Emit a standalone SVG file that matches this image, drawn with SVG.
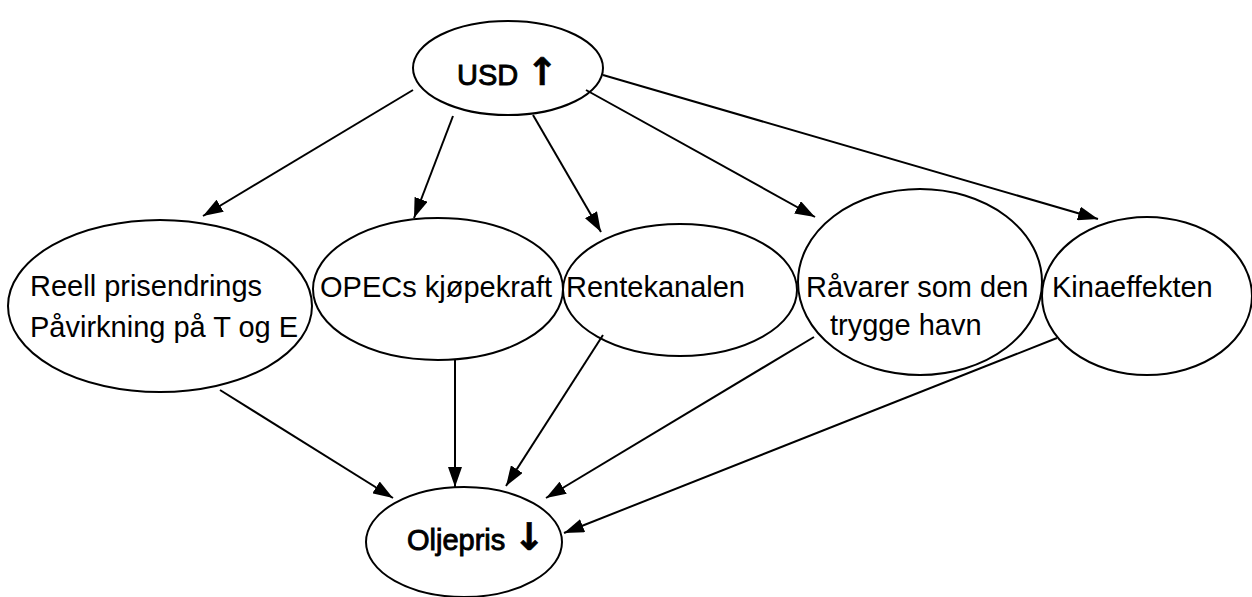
<svg xmlns="http://www.w3.org/2000/svg" width="1252" height="597" viewBox="0 0 1252 597">
<style>
.n{fill:#fff;stroke:#000;stroke-width:2}
.t{font-family:"Liberation Sans",Arial,sans-serif;font-size:29px;fill:#000}
.b{stroke:#000;stroke-width:0.9}
.ar{font-family:"DejaVu Sans",sans-serif;font-weight:bold;font-size:38px;stroke-width:0.6}
.c{stroke:#000;stroke-width:2;fill:none;marker-end:url(#ah)}
</style>
<defs>
<marker id="ah" markerUnits="userSpaceOnUse" markerWidth="20" markerHeight="14" refX="20" refY="7" orient="auto">
<path d="M0,0 L20,7 L0,14 z" fill="#000"/>
</marker>
</defs>
<rect width="1252" height="597" fill="#fff"/>
<g id="usd"><ellipse class="n" cx="508" cy="68" rx="95" ry="47"/><text class="t b" x="457" y="85">USD <tspan class="ar">↑</tspan></text></g>
<g id="reell"><ellipse class="n" cx="160" cy="306" rx="152" ry="86"/><text class="t" x="30" y="296">Reell prisendrings</text><text class="t" x="30" y="337">Påvirkning på T og E</text></g>
<g id="opec"><ellipse class="n" cx="438" cy="289" rx="125" ry="71"/><text class="t" x="320" y="297">OPECs kjøpekraft</text></g>
<g id="rente"><ellipse class="n" cx="680" cy="290" rx="117" ry="66"/><text class="t" x="566" y="297">Rentekanalen</text></g>
<g id="raavarer"><ellipse class="n" cx="920" cy="282" rx="122" ry="93"/><text class="t" x="806" y="297">Råvarer som den</text><text class="t" x="830" y="335">trygge havn</text></g>
<g id="kina"><ellipse class="n" cx="1147" cy="296" rx="105" ry="79"/><text class="t" x="1052" y="297">Kinaeffekten</text></g>
<g id="olje"><ellipse class="n" cx="464" cy="542" rx="98" ry="55"/><text class="t b" x="407" y="550">Oljepris <tspan class="ar">↓</tspan></text></g>
<g id="connectors">
<line class="c" x1="413" y1="90" x2="203" y2="216"/>
<line class="c" x1="453" y1="116" x2="414" y2="218"/>
<line class="c" x1="533" y1="115" x2="601" y2="232"/>
<line class="c" x1="586" y1="90" x2="815" y2="217"/>
<line class="c" x1="603" y1="75" x2="1098" y2="219"/>
<line class="c" x1="220" y1="390" x2="393" y2="498"/>
<line class="c" x1="455" y1="360" x2="455" y2="487"/>
<line class="c" x1="603" y1="335" x2="506" y2="486"/>
<line class="c" x1="814" y1="337" x2="546" y2="498"/>
<line class="c" x1="1057" y1="338" x2="564" y2="533"/>
</g>
</svg>
